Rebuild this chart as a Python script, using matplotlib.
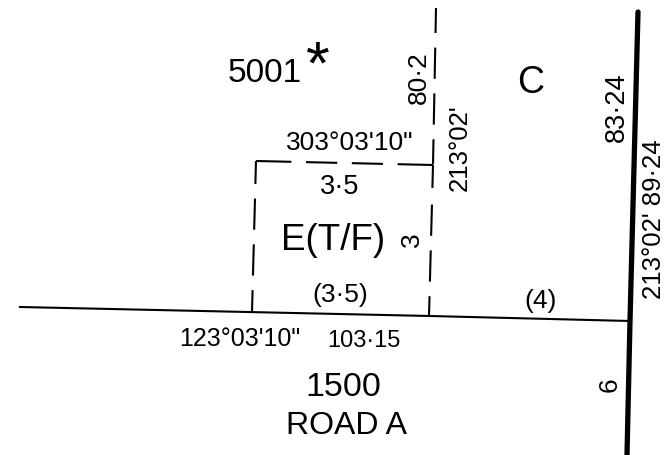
import matplotlib
matplotlib.use("Agg")
import matplotlib.pyplot as plt

plt.rcParams["font.family"] = ["Liberation Sans", "DejaVu Sans"]

# boundary lines, in pixel coordinates of the plan
road_x = [20, 430, 630]
road_y = [307, 316, 321]
east_x = [638, 630, 627]
east_y = [12, 321, 455]

lot_top_x = [256, 433]
lot_top_y = [161, 165]
lot_left_x = [256, 252]
lot_left_y = [161, 312]
lot_upper_x = [436, 433]
lot_upper_y = [8, 165]
lot_lower_x = [433, 429]
lot_lower_y = [165, 316]

# label, x, y, size, rotation
labels = [
    ("5001", 265, 74, 24, 0),
    ("*", 318, 68, 44, 0),
    ("C", 531, 83, 27, 0),
    ("80·2", 419, 78, 19, 90),
    ("213°02'", 460, 148, 18.5, 90),
    ("83·24", 617, 107, 19.5, 90),
    ("303°03'10\"", 350, 143, 19, 0),
    ("3·5", 340, 187, 19.5, 0),
    ("E(T/F)", 333, 240, 26.5, 0),
    ("3", 412, 240, 19, 90),
    ("(3·5)", 340, 295, 19, 0),
    ("(4)", 541, 301, 19, 0),
    ("213°02' 89·24", 654, 219, 18.5, 90),
    ("123°03'10\"", 240, 339, 18, 0),
    ("103·15", 364, 341, 17, 0),
    ("1500", 343, 388, 24.5, 0),
    ("ROAD A", 347, 426, 23, 0),
    ("6", 610, 385, 19, 90),
]

fig = plt.figure(figsize=(6.68, 4.55), dpi=100)
ax = fig.add_axes([0, 0, 1, 1])
ax.set_xlim(0, 668)
ax.set_ylim(455, 0)
ax.axis("off")

ax.plot(road_x, road_y, color="black", lw=1.5)
ax.plot(east_x, east_y, color="black", lw=3.8, solid_capstyle="round")

# dash lengths are in line widths (about 2 px each)
ax.plot(lot_top_x, lot_top_y, color="black", lw=1.5, linestyle=(0, (17, 7, 15, 7, 15, 7, 17, 7)))
ax.plot(lot_left_x, lot_left_y, color="black", lw=1.5, linestyle=(0, (11, 7, 15, 7, 15, 7, 11, 7)))
ax.plot(lot_upper_x, lot_upper_y, color="black", lw=1.5, linestyle=(0, (12, 7, 15, 7, 15, 7, 12, 7)))
ax.plot(lot_lower_x, lot_lower_y, color="black", lw=1.5, linestyle=(0, (11, 8, 15, 7, 15, 7, 11, 7)))

for text, x, y, size, rot in labels:
    ax.text(x, y, text, fontsize=size, rotation=rot, ha="center", va="center", color="black")

fig.savefig("out.png", dpi=100)
